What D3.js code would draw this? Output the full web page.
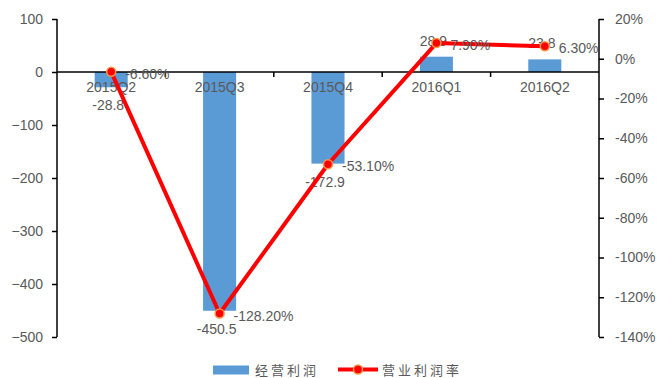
<!DOCTYPE html>
<html>
<head>
<meta charset="utf-8">
<script src="https://cdn.jsdelivr.net/npm/d3@7"></script>
<style>
  html, body { margin: 0; padding: 0; background: #fff; }
  svg { display: block; }
</style>
</head>
<body>
<svg id="chart" width="659" height="378"></svg>
<script>
// Quarterly operating profit (bars, left axis) and operating margin (line, right axis)
const categories = ["2015Q2", "2015Q3", "2015Q4", "2016Q1", "2016Q2"];
const profitValues = [-28.8, -450.5, -172.9, 28.9, 23.8];
const marginValues = [-6.6, -128.2, -53.1, 7.9, 6.3];
const leftTicks = [100, 0, -100, -200, -300, -400, -500];
const rightTicks = [20, 0, -20, -40, -60, -80, -100, -120, -140];
const seriesNames = ["经营利润", "营业利润率"];

const svg = d3.select("#chart");
const plotLeft = 57, plotRight = 599, plotTop = 19, plotBottom = 337;
const textColor = "#595959";
const fontFamily = "'Liberation Sans', Arial, sans-serif";

const x = d3.scaleBand().domain(categories).range([plotLeft, plotRight]).padding(0);
const yL = d3.scaleLinear().domain([-500, 100]).range([plotBottom, plotTop]);
const yR = d3.scaleLinear().domain([-140, 20]).range([plotBottom, plotTop]);
const barW = x.bandwidth() * 0.305;
const cx = c => x(c) + x.bandwidth() / 2;

// Bars
svg.append("g").selectAll("rect")
  .data(categories)
  .join("rect")
  .attr("x", (c) => cx(c) - barW / 2)
  .attr("width", barW)
  .attr("y", (c, i) => yL(Math.max(0, profitValues[i])))
  .attr("height", (c, i) => Math.abs(yL(profitValues[i]) - yL(0)))
  .attr("fill", "#5B9BD5");

// Left axis
const axL = svg.append("g").attr("transform", `translate(${plotLeft},0)`)
  .call(d3.axisLeft(yL).tickValues(leftTicks).tickSize(5).tickPadding(9).tickFormat(d3.format("d")));
// Right axis
const axR = svg.append("g").attr("transform", `translate(${plotRight},0)`)
  .call(d3.axisRight(yR).tickValues(rightTicks).tickSize(5).tickPadding(11).tickFormat(d => d + "%"));
[axL, axR].forEach(ax => {
  ax.select(".domain").attr("stroke", "#000").attr("stroke-width", 1.5).attr("d", `M0,${plotTop}V${plotBottom}`);
  ax.selectAll(".tick line").attr("stroke", "#000").attr("stroke-width", 1.5);
  ax.selectAll(".tick text").attr("fill", textColor).style("font-size", "14px").style("font-family", fontFamily);
});

// Category axis on the zero line
const zeroY = yL(0);
const axX = svg.append("g").attr("transform", `translate(0,${zeroY})`)
  .call(d3.axisBottom(x).tickSize(0).tickPadding(10));
axX.select(".domain").attr("stroke", "#000").attr("stroke-width", 1.5).attr("d", `M${plotLeft},0H${plotRight}`);
axX.selectAll(".tick text").attr("fill", textColor).style("font-size", "14px").style("font-family", fontFamily);
// boundary ticks between categories
axX.selectAll("line.sep")
  .data(categories.slice(1))
  .join("line")
  .attr("class", "sep")
  .attr("x1", c => x(c)).attr("x2", c => x(c))
  .attr("y1", 0).attr("y2", 5)
  .attr("stroke", "#000").attr("stroke-width", 1.5);

// Bar value labels
svg.append("g").selectAll("text")
  .data(categories)
  .join("text")
  .attr("x", c => cx(c) - 3)
  .attr("y", (c, i) => profitValues[i] < 0 ? yL(profitValues[i]) + 23 : yL(profitValues[i]) - 11)
  .attr("text-anchor", "middle")
  .attr("fill", textColor)
  .style("font-size", "14px").style("font-family", fontFamily)
  .text((c, i) => profitValues[i].toFixed(1));

// Margin line
const line = d3.line()
  .x((d, i) => cx(categories[i]))
  .y(d => yR(d));
svg.append("path")
  .datum(marginValues)
  .attr("d", line)
  .attr("fill", "none")
  .attr("stroke", "#FF0000")
  .attr("stroke-width", 4)
  .attr("stroke-linejoin", "round");

svg.append("g").selectAll("circle")
  .data(marginValues)
  .join("circle")
  .attr("cx", (d, i) => cx(categories[i]))
  .attr("cy", d => yR(d))
  .attr("r", 4.5)
  .attr("fill", "#FF0000")
  .attr("stroke", "#F79646")
  .attr("stroke-width", 1.5);

// Margin labels
svg.append("g").selectAll("text")
  .data(marginValues)
  .join("text")
  .attr("x", (d, i) => cx(categories[i]) + 14)
  .attr("y", d => yR(d) + 2)
  .attr("dominant-baseline", "central")
  .attr("fill", textColor)
  .style("font-size", "14px").style("font-family", fontFamily)
  .text(d => d.toFixed(2) + "%");

// Legend
const legendY = 369.5;
const lg = svg.append("g");
lg.append("rect").attr("x", 213).attr("y", legendY - 4).attr("width", 36).attr("height", 9).attr("fill", "#5B9BD5");
lg.append("text").attr("x", 255).attr("y", legendY).attr("dominant-baseline", "central")
  .attr("fill", textColor).style("font-size", "13px").style("letter-spacing", "3px")
  .style("font-family", "'Noto Sans CJK SC', sans-serif").text(seriesNames[0]);
lg.append("line").attr("x1", 338).attr("x2", 378).attr("y1", legendY).attr("y2", legendY)
  .attr("stroke", "#FF0000").attr("stroke-width", 4);
lg.append("circle").attr("cx", 358).attr("cy", legendY).attr("r", 4.5)
  .attr("fill", "#FF0000").attr("stroke", "#F79646").attr("stroke-width", 1.5);
lg.append("text").attr("x", 382).attr("y", legendY).attr("dominant-baseline", "central")
  .attr("fill", textColor).style("font-size", "13px").style("letter-spacing", "3px")
  .style("font-family", "'Noto Sans CJK SC', sans-serif").text(seriesNames[1]);
</script>
</body>
</html>
